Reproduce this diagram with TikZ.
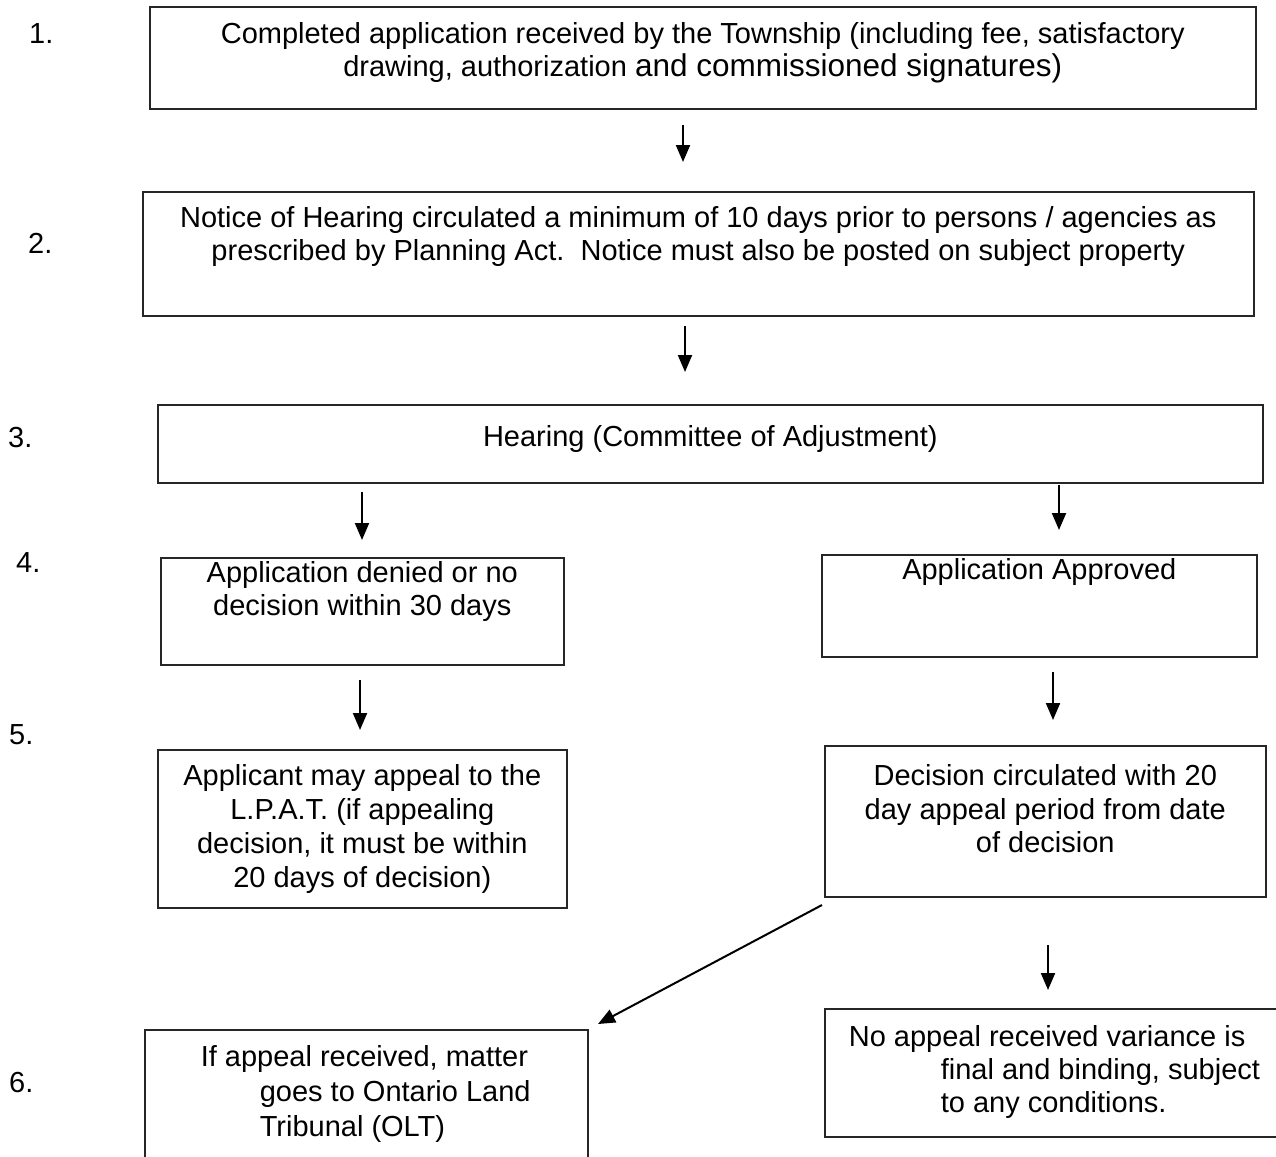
\documentclass[tikz,border=0pt]{standalone}
\usepackage{fontspec}
\setmainfont{Liberation Sans}
\usetikzlibrary{arrows.meta}
\newcommand\bxc[5]{\parbox[c][#2pt][t]{#1pt}{\fontsize{29}{#4}\selectfont\vspace*{#3pt}\centering\rule{0pt}{24pt}#5\par}}
\newcommand\bxl[5]{\parbox[c][#2pt][t]{#1pt}{\fontsize{29}{#4}\selectfont\vspace*{#3pt}\raggedright\rule{0pt}{24pt}#5\par}}
\tikzset{
  box/.style={draw=black!85, line width=1.6pt, inner sep=0pt, anchor=north west},
  arr/.style={line width=2pt, -{Triangle[length=17pt,width=14pt]}},
  num/.style={anchor=base west, inner sep=0pt, font=\fontsize{29}{33}\selectfont},
}
\begin{document}
\begin{tikzpicture}[x=1pt,y=-1pt]
\useasboundingbox (0,0) rectangle (1276,1156);
\clip (0,0) rectangle (1276,1156);
\fill[white] (0,0) rectangle (1276,1156);

% step numbers
\node[num] (n1) at (29,44) {1.};
\node[num] (n2) at (28,253) {2.};
\node[num] (n3) at (8,447) {3.};
\node[num] (n4) at (16,572) {4.};
\node[num] (n5) at (9,744) {5.};
\node[num] (n6) at (9,1092) {6.};

% boxes
\node[box] (b1) at (149,6) {\bxc{1106}{102}{13}{33}{Completed application received by the Township (including fee, satisfactory\\ drawing, authorization {\fontsize{31.5}{33}\selectfont and commissioned signatures)}}};
\node[box] (b2) at (142,191) {\bxc{1111}{124}{12}{33}{Notice of Hearing circulated a minimum of 10 days prior to persons / agencies as\\ prescribed by Planning Act.\ \ Notice must also be posted on subject property}};
\node[box] (b3) at (157,404) {\bxc{1105}{78}{18}{33}{Hearing (Committee of Adjustment)}};
\node[box] (b4l) at (160,557) {\bxc{403}{107}{1}{33}{Application denied or no\\ decision within 30 days}};
\node[box] (b4r) at (821,554) {\bxc{435}{102}{1}{33}{Application Approved}};
\node[box] (b5l) at (157,749) {\bxc{409}{158}{12}{34}{Applicant may appeal to the\\ L.P.A.T. (if appealing\\ decision, it must be within\\ 20 days of decision)}};
\node[box] (b5r) at (824,745) {\bxc{441}{151}{16}{33.5}{Decision circulated with 20\\ day appeal period from date\\ of decision}};
\node[box] (b6l) at (144,1029) {\bxl{443}{160}{13}{35}{\hspace*{56pt}If appeal received, matter\\ \hspace*{115pt}goes to Ontario Land\\ \hspace*{115pt}Tribunal (OLT)}};
\node[box] (b6r) at (824,1008) {\bxl{480}{128}{14}{33}{\hspace*{24pt}No appeal received variance is\\ \hspace*{116pt}final and binding, subject\\ \hspace*{116pt}to any conditions.}};

% arrow end points
\coordinate (a1s) at (683,125);  \coordinate (a1e) at (683,162);
\coordinate (a2s) at (685,326);  \coordinate (a2e) at (685,372);
\coordinate (a3ls) at (362,492); \coordinate (a3le) at (362,540);
\coordinate (a3rs) at (1059,485);\coordinate (a3re) at (1059,530);
\coordinate (a4ls) at (360,680); \coordinate (a4le) at (360,730);
\coordinate (a4rs) at (1053,672);\coordinate (a4re) at (1053,720);
\coordinate (a5rs) at (1048,945);\coordinate (a5re) at (1048,990);
\coordinate (ads) at (822,905);  \coordinate (ade) at (598,1024);

\draw[arr] (a1s) -- (a1e);
\draw[arr] (a2s) -- (a2e);
\draw[arr] (a3ls) -- (a3le);
\draw[arr] (a3rs) -- (a3re);
\draw[arr] (a4ls) -- (a4le);
\draw[arr] (a4rs) -- (a4re);
\draw[arr] (a5rs) -- (a5re);
\draw[arr] (ads) -- (ade);
\end{tikzpicture}
\end{document}
